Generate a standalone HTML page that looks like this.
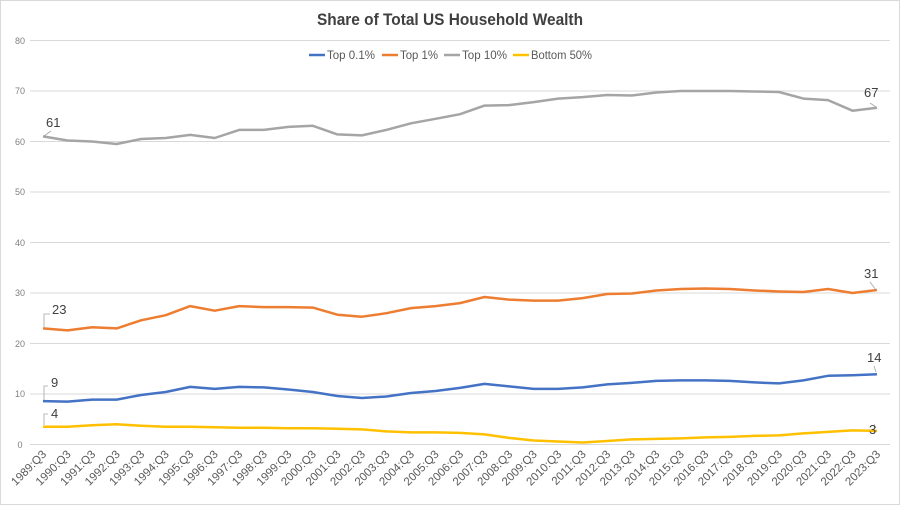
<!DOCTYPE html>
<html><head><meta charset="utf-8"><style>
body{margin:0;background:#fff}
svg{display:block;font-family:"Liberation Sans",sans-serif}
</style></head><body>
<svg id="s" width="900" height="505" viewBox="0 0 900 505">
<rect x="0.5" y="0.5" width="899" height="504" fill="#fff" stroke="#d9d9d9"/>
<text x="450" y="25" text-anchor="middle" font-size="17" font-weight="bold" fill="#404040" textLength="266" lengthAdjust="spacingAndGlyphs">Share of Total US Household Wealth</text>
<g stroke="#d9d9d9" stroke-width="1">
<line x1="30" x2="890" y1="40.5" y2="40.5"/><line x1="30" x2="890" y1="91" y2="91"/><line x1="30" x2="890" y1="141.5" y2="141.5"/><line x1="30" x2="890" y1="192" y2="192"/><line x1="30" x2="890" y1="242.5" y2="242.5"/><line x1="30" x2="890" y1="293" y2="293"/><line x1="30" x2="890" y1="343.5" y2="343.5"/><line x1="30" x2="890" y1="394" y2="394"/><line x1="30" x2="890" y1="444.5" y2="444.5"/>
</g>
<g font-size="9" fill="#7f7f7f" text-anchor="middle">
<text x="20" y="44">80</text><text x="20" y="94">70</text><text x="20" y="145">60</text><text x="20" y="195">50</text><text x="20" y="246">40</text><text x="20" y="296">30</text><text x="20" y="347">20</text><text x="20" y="397">10</text><text x="20" y="448">0</text>
</g>
<g font-size="12" fill="#595959">
<line x1="309" x2="325" y1="55" y2="55" stroke="#4472c4" stroke-width="2.5"/><text x="327" y="59" textLength="48" lengthAdjust="spacingAndGlyphs">Top 0.1%</text>
<line x1="382" x2="398" y1="55" y2="55" stroke="#ed7d31" stroke-width="2.5"/><text x="400" y="59" textLength="38" lengthAdjust="spacingAndGlyphs">Top 1%</text>
<line x1="444" x2="460" y1="55" y2="55" stroke="#a5a5a5" stroke-width="2.5"/><text x="462" y="59" textLength="45" lengthAdjust="spacingAndGlyphs">Top 10%</text>
<line x1="513" x2="529" y1="55" y2="55" stroke="#ffc000" stroke-width="2.5"/><text x="531" y="59" textLength="61" lengthAdjust="spacingAndGlyphs">Bottom 50%</text>
</g>
<g id="lines"></g>
<g font-size="13" fill="#404040">
<path d="M44 136 L51 131" fill="none" stroke="#a5a5a5" stroke-width="0.8"/><text x="46" y="127">61</text>
<path d="M876 107 L870 103" fill="none" stroke="#a5a5a5" stroke-width="0.8"/><text x="864" y="97">67</text>
<path d="M44 328 L44 314 L50 314" fill="none" stroke="#a5a5a5" stroke-width="0.8"/><text x="52" y="314">23</text>
<path d="M876 290 L870 282" fill="none" stroke="#a5a5a5" stroke-width="0.8"/><text x="864" y="278">31</text>
<path d="M44 400 L44 386 L48 386" fill="none" stroke="#a5a5a5" stroke-width="0.8"/><text x="51" y="387">9</text>
<path d="M876 372 L874 366" fill="none" stroke="#a5a5a5" stroke-width="0.8"/><text x="867" y="362">14</text>
<path d="M44 425 L44 414 L48 414" fill="none" stroke="#a5a5a5" stroke-width="0.8"/><text x="51" y="418">4</text>
<path d="M876 428 L874 424" fill="none" stroke="#a5a5a5" stroke-width="0.8"/><text x="869" y="434">3</text>
</g>
<g font-size="11.5" fill="#595959" text-anchor="end">
<text transform="translate(47,455) rotate(-45)">1989:Q3</text>
<text transform="translate(71.5,455) rotate(-45)">1990:Q3</text>
<text transform="translate(96.1,455) rotate(-45)">1991:Q3</text>
<text transform="translate(120.6,455) rotate(-45)">1992:Q3</text>
<text transform="translate(145.1,455) rotate(-45)">1993:Q3</text>
<text transform="translate(169.7,455) rotate(-45)">1994:Q3</text>
<text transform="translate(194.2,455) rotate(-45)">1995:Q3</text>
<text transform="translate(218.7,455) rotate(-45)">1996:Q3</text>
<text transform="translate(243.2,455) rotate(-45)">1997:Q3</text>
<text transform="translate(267.8,455) rotate(-45)">1998:Q3</text>
<text transform="translate(292.3,455) rotate(-45)">1999:Q3</text>
<text transform="translate(316.8,455) rotate(-45)">2000:Q3</text>
<text transform="translate(341.4,455) rotate(-45)">2001:Q3</text>
<text transform="translate(365.9,455) rotate(-45)">2002:Q3</text>
<text transform="translate(390.4,455) rotate(-45)">2003:Q3</text>
<text transform="translate(414.9,455) rotate(-45)">2004:Q3</text>
<text transform="translate(439.5,455) rotate(-45)">2005:Q3</text>
<text transform="translate(464,455) rotate(-45)">2006:Q3</text>
<text transform="translate(488.5,455) rotate(-45)">2007:Q3</text>
<text transform="translate(513.1,455) rotate(-45)">2008:Q3</text>
<text transform="translate(537.6,455) rotate(-45)">2009:Q3</text>
<text transform="translate(562.1,455) rotate(-45)">2010:Q3</text>
<text transform="translate(586.7,455) rotate(-45)">2011:Q3</text>
<text transform="translate(611.2,455) rotate(-45)">2012:Q3</text>
<text transform="translate(635.7,455) rotate(-45)">2013:Q3</text>
<text transform="translate(660.3,455) rotate(-45)">2014:Q3</text>
<text transform="translate(684.8,455) rotate(-45)">2015:Q3</text>
<text transform="translate(709.3,455) rotate(-45)">2016:Q3</text>
<text transform="translate(733.8,455) rotate(-45)">2017:Q3</text>
<text transform="translate(758.4,455) rotate(-45)">2018:Q3</text>
<text transform="translate(782.9,455) rotate(-45)">2019:Q3</text>
<text transform="translate(807.4,455) rotate(-45)">2020:Q3</text>
<text transform="translate(831.9,455) rotate(-45)">2021:Q3</text>
<text transform="translate(856.5,455) rotate(-45)">2022:Q3</text>
<text transform="translate(881,455) rotate(-45)">2023:Q3</text>
</g>
</svg>
<script>
var S={
"#a5a5a5":[61,60.2,60,59.5,60.5,60.7,61.3,60.7,62.3,62.3,62.9,63.1,61.4,61.2,62.3,63.6,64.5,65.4,67.1,67.2,67.8,68.5,68.8,69.2,69.1,69.7,70,70,70,69.9,69.8,68.5,68.2,66.1,66.7],
"#ed7d31":[23,22.6,23.2,23,24.6,25.6,27.4,26.5,27.4,27.2,27.2,27.1,25.7,25.3,26,27,27.4,28,29.2,28.7,28.5,28.5,29,29.8,29.9,30.5,30.8,30.9,30.8,30.5,30.3,30.2,30.8,30,30.6],
"#4472c4":[8.6,8.5,8.9,8.9,9.8,10.4,11.4,11,11.4,11.3,10.9,10.4,9.6,9.2,9.5,10.2,10.6,11.2,12,11.5,11,11,11.3,11.9,12.2,12.6,12.7,12.7,12.6,12.3,12.1,12.7,13.6,13.7,13.9],
"#ffc000":[3.5,3.5,3.8,4,3.7,3.5,3.5,3.4,3.3,3.3,3.2,3.2,3.1,3,2.6,2.4,2.4,2.3,2,1.3,0.8,0.6,0.4,0.7,1,1.1,1.2,1.4,1.5,1.7,1.8,2.2,2.5,2.8,2.7]};
var g=document.getElementById("lines"),h="";
for(var c in S){var p=S[c].map(function(v,i){return (43+24.53*i).toFixed(1)+","+(444.5-5.05*v).toFixed(1)}).join(" ");
h+='<polyline points="'+p+'" fill="none" stroke="'+c+'" stroke-width="2.5" stroke-linejoin="round"/>';}
g.innerHTML=h;
</script>
</body></html>
